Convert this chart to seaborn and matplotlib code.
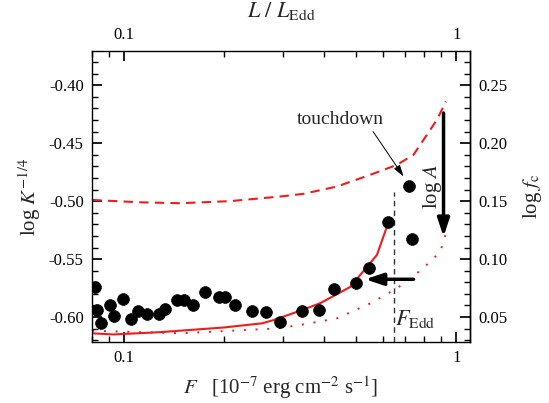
import numpy as np
import pandas as pd
import matplotlib
matplotlib.use('Agg')
import matplotlib.pyplot as plt
import seaborn as sns
from matplotlib.ticker import FixedLocator, NullFormatter, MultipleLocator, FormatStrFormatter, FixedFormatter

# observed points: flux [1e-7 erg/cm2/s], log K^-1/4
flux_obs = [0.0818, 0.0831, 0.0851, 0.0907, 0.0935, 0.0991, 0.1048, 0.1097, 0.1175,
            0.1275, 0.1323, 0.1441, 0.1509, 0.1606, 0.1751, 0.1936, 0.2014, 0.2154,
            0.2425, 0.2665, 0.2951, 0.3429, 0.3867, 0.4298, 0.4989, 0.5470, 0.6239,
            0.7217, 0.7334]
logk_obs = [-0.574, -0.594, -0.605, -0.590, -0.599, -0.584, -0.602, -0.595, -0.597,
            -0.597, -0.593, -0.585, -0.585, -0.590, -0.578, -0.583, -0.583, -0.590,
            -0.595, -0.596, -0.604, -0.595, -0.594, -0.576, -0.571, -0.558, -0.518,
            -0.487, -0.533]

# model (solid)
flux_solid = [0.0801, 0.0928, 0.1284, 0.1991, 0.2599, 0.2817, 0.3429, 0.3894, 0.4795, 0.5769, 0.6209]
logk_solid = [-0.614, -0.615, -0.613, -0.609, -0.6054, -0.6026, -0.594, -0.588, -0.574, -0.5464, -0.5205]

# model (dashed)
flux_dash = [0.0802, 0.1117, 0.1474, 0.2085, 0.2951, 0.3468, 0.4371, 0.5508, 0.6629, 0.7436, 0.8160, 0.8747, 0.9311]
logk_dash = [-0.499, -0.501, -0.5018, -0.500, -0.496, -0.4937, -0.4874, -0.4773, -0.4687, -0.460, -0.4427, -0.4298, -0.414]

# model (dotted)
flux_dot = [0.0802, 0.1474, 0.2882, 0.3468, 0.4371, 0.5508, 0.6629, 0.7612, 0.8355, 0.8952, 0.9311]
logk_dot = [-0.6118, -0.614, -0.6098, -0.6063, -0.6011, -0.5882, -0.5752, -0.5622, -0.5522, -0.5436, -0.5277]

x_major = [0.1, 1]
x_major_labels = ['0.1', '1']
x_minor = [0.08, 0.09, 0.2, 0.3, 0.4, 0.5, 0.6, 0.7, 0.8, 0.9]
f_edd = 0.6475

sns.set_theme(style='ticks')
plt.rcParams.update({
    'font.family': ['Liberation Serif', 'DejaVu Serif'],
    'mathtext.fontset': 'stix',
    'axes.unicode_minus': False,
    'axes.linewidth': 1.0,
    'axes.edgecolor': 'black',
    'xtick.color': 'black', 'ytick.color': 'black',
    'xtick.direction': 'in', 'ytick.direction': 'in',
    'xtick.major.size': 7, 'ytick.major.size': 7,
    'xtick.minor.size': 4, 'ytick.minor.size': 4,
    'xtick.labelsize': 12, 'ytick.labelsize': 12,
})

fig = plt.figure(figsize=(5.49, 4.03), dpi=100)
ax = fig.add_axes([92/549, 1 - 342/403, (470-92)/549, (342-51)/403])

red = '#ee1c1c'
sns.lineplot(x=flux_solid, y=logk_solid, ax=ax, color=red, lw=1.5, sort=False, estimator=None)
sns.lineplot(x=flux_dash, y=logk_dash, ax=ax, color=red, lw=1.5, sort=False, estimator=None,
             linestyle=(0, (4.5, 3)))
sns.lineplot(x=flux_dot, y=logk_dot, ax=ax, color=red, lw=1.4, sort=False, estimator=None,
             linestyle=(0, (1, 5)))
df = pd.DataFrame({'F': flux_obs, 'K': logk_obs})
sns.scatterplot(data=df, x='F', y='K', ax=ax, color='black', s=72, edgecolor='black', linewidth=0.5, zorder=5)

ax.set_xscale('log')
ax.set_xlim(0.080, 1.10)
ax.set_ylim(-0.6215, -0.3705)

ax.xaxis.set_major_locator(FixedLocator(x_major))
ax.xaxis.set_major_formatter(FixedFormatter(x_major_labels))
ax.xaxis.set_minor_locator(FixedLocator(x_minor))
ax.xaxis.set_minor_formatter(NullFormatter())
ax.yaxis.set_major_locator(MultipleLocator(0.05))
ax.yaxis.set_minor_locator(MultipleLocator(0.01))
ax.yaxis.set_major_formatter(FormatStrFormatter('%.2f'))
ax.tick_params(which='both', top=True, labeltop=True, right=False, pad=6)

ax.set_xlabel(r'$F$   [10$^{-7}$ erg cm$^{-2}$ s$^{-1}$]', fontsize=15, labelpad=6)
ax.set_ylabel(r'log $K^{-1/4}$', fontsize=15, labelpad=4)
ax.text(0.5, 1.10, r'$L\ /\ L_{\rm Edd}$', transform=ax.transAxes, ha='center', va='bottom', fontsize=16)

# right axis: log f_c = log K^-1/4 + 0.65
ax2 = ax.secondary_yaxis('right', functions=(lambda y: y + 0.65, lambda y: y - 0.65))
ax2.yaxis.set_major_locator(MultipleLocator(0.05))
ax2.yaxis.set_minor_locator(MultipleLocator(0.01))
ax2.yaxis.set_major_formatter(FormatStrFormatter('%.2f'))
ax2.tick_params(which='both', direction='in', pad=6)
ax2.set_ylabel(r'log $f_{\rm c}$', fontsize=15, labelpad=10)

# F_Edd vertical line
ax.plot([f_edd, f_edd], [-0.6215, -0.4917], color='#333333', lw=1.0, ls=(0, (4, 3)))
ax.text(0.655, -0.602, r'$F_{\rm Edd}$', fontsize=16, ha='left', va='center')

# arrows
ax.annotate('', xy=(0.5318, -0.5674), xytext=(0.7436, -0.5674),
            arrowprops=dict(arrowstyle='-|>,head_length=0.9,head_width=0.3', color='black', lw=2.5,
                            shrinkA=0, shrinkB=0))
ax.annotate('', xy=(0.9156, -0.5306), xytext=(0.9156, -0.424),
            arrowprops=dict(arrowstyle='-|>,head_length=0.9,head_width=0.3', color='black', lw=2.5,
                            shrinkA=0, shrinkB=0))
ax.text(0.850, -0.4874, r'log $A$', rotation=90, fontsize=15, ha='center', va='center')

ax.annotate('touchdown', xy=(0.694, -0.4788), xytext=(0.4477, -0.4298),
            fontsize=14, ha='center', va='center',
            arrowprops=dict(arrowstyle='-|>,head_length=0.5,head_width=0.15', color='black', lw=0.7,
                            shrinkA=0, shrinkB=0, relpos=(0.85, 0.0)))

fig.savefig('out.png', dpi=100)
